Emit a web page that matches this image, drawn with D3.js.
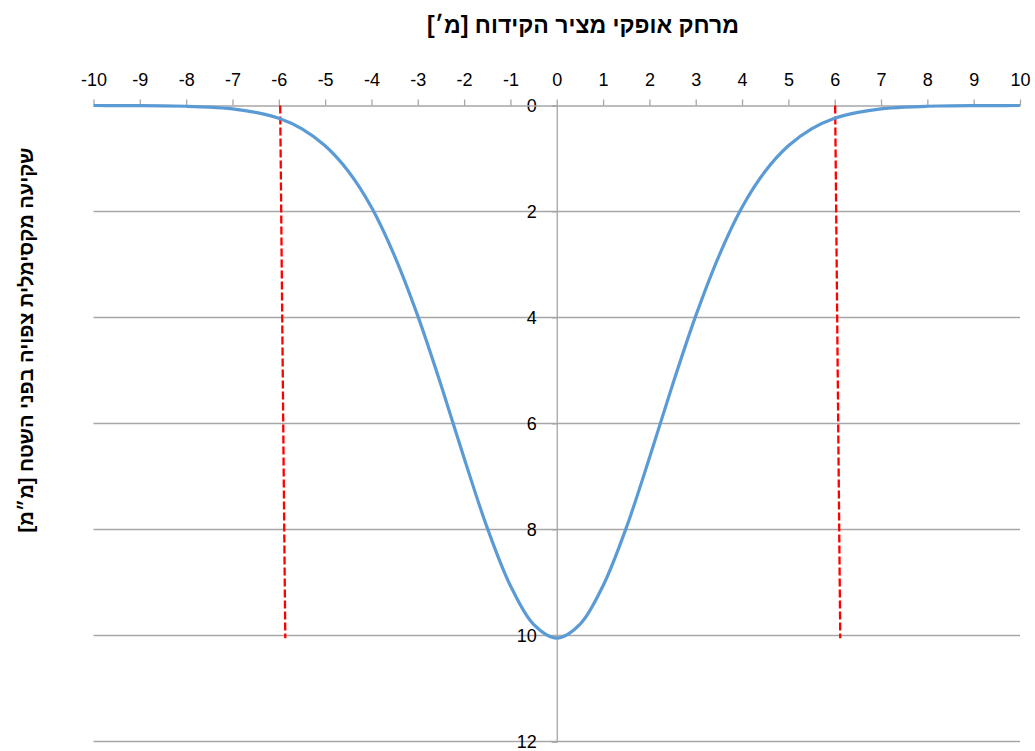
<!DOCTYPE html>
<html><head><meta charset="utf-8">
<script src="https://cdn.jsdelivr.net/npm/d3@7"></script>
<style>body{margin:0;background:#fff}svg{display:block}text{font-family:"Liberation Sans","DejaVu Sans",Arial,sans-serif}</style>
</head><body><div id="chart"></div>
<script>
// distance from borehole axis [m]
const xValues = [-10,-9.5,-9,-8.5,-8,-7.5,-7,-6.5,-6,-5.5,-5,-4.5,-4,-3.5,-3,-2.5,-2,-1.5,-1,-0.5,0,0.5,1,1.5,2,2.5,3,3.5,4,4.5,5,5.5,6,6.5,7,7.5,8,8.5,9,9.5,10];
// max expected surface settlement [mm]
const settlement = [0,0.001,0.002,0.006,0.014,0.03,0.064,0.13,0.24,0.44,0.76,1.24,1.92,2.84,3.97,5.27,6.65,7.97,9.06,9.79,10.05,9.79,9.06,7.97,6.65,5.27,3.97,2.84,1.92,1.24,0.76,0.44,0.24,0.13,0.064,0.03,0.014,0.006,0.002,0.001,0];
const leftLimitX = [-5.97,-5.86], leftLimitY = [0,10.05];
const rightLimitX = [6.01,6.12], rightLimitY = [0,10.05];
const xTicks = [-10,-9,-8,-7,-6,-5,-4,-3,-2,-1,0,1,2,3,4,5,6,7,8,9,10];
const yTicks = [0,2,4,6,8,10,12];
const xTitle = "מרחק אופקי מציר הקידוח [מ׳]";
const yTitle = "שקיעה מקסימלית צפויה בפני השטח [מ״מ]";

const W = 1035, H = 751;
const svg = d3.select("#chart").append("svg").attr("width", W).attr("height", H);
const x = d3.scaleLinear().domain([-10,10]).range([93.5,1020]);
const y = d3.scaleLinear().domain([0,12]).range([105.5,741.5]);
const fmt = d => String(d);

// gridlines
svg.append("g").selectAll("line").data(yTicks.filter(d=>d>0)).join("line")
  .attr("x1", x(-10)).attr("x2", x(10)).attr("y1", d=>y(d)).attr("y2", d=>y(d))
  .attr("stroke", "#a6a6a6").attr("stroke-width", 1.3);

// vertical axis at x=0
const ya = svg.append("g").attr("transform", `translate(${x(0)},0)`)
  .call(d3.axisLeft(y).tickValues(yTicks).tickFormat(fmt).tickSize(5).tickPadding(15));
ya.select(".domain").attr("stroke", "#a6a6a6").attr("stroke-width", 1.3);
ya.selectAll(".tick line").attr("stroke", "#a6a6a6");
ya.selectAll(".tick text").attr("font-size", 18).attr("fill", "#000")
  .attr("font-family", "\"Liberation Sans\",\"DejaVu Sans\",sans-serif");

// top axis
const xa = svg.append("g").attr("transform", `translate(0,${y(0)})`)
  .call(d3.axisTop(x).tickValues(xTicks).tickFormat(fmt).tickSize(6).tickPadding(14).tickSizeOuter(0));
xa.select(".domain").attr("stroke", "#a6a6a6").attr("stroke-width", 1.3);
xa.selectAll(".tick line").attr("stroke", "#a6a6a6").attr("stroke-width", 1.3);
xa.selectAll(".tick text").attr("font-size", 18).attr("fill", "#000")
  .attr("font-family", "\"Liberation Sans\",\"DejaVu Sans\",sans-serif");

// limit lines
const lim = d3.line().x(d=>x(d[0])).y(d=>y(d[1]));
[[leftLimitX,leftLimitY],[rightLimitX,rightLimitY]].forEach(([lx,ly])=>{
  svg.append("path").datum(lx.map((v,i)=>[v,ly[i]])).attr("d", lim)
    .attr("fill","none").attr("stroke","#ff0000").attr("stroke-width",2.3).attr("stroke-dasharray","8,3");
});

// settlement curve
const line = d3.line().x((d,i)=>x(xValues[i])).y(d=>y(d)).curve(d3.curveCatmullRom.alpha(0.5));
svg.append("path").datum(settlement).attr("d", line)
  .attr("fill","none").attr("stroke","#5b9bd5").attr("stroke-width",3.2).attr("stroke-linejoin","round");

// titles
svg.append("text").attr("x", 583).attr("y", 33).attr("text-anchor","middle")
  .attr("direction","rtl").attr("font-size", 23).attr("font-weight","bold").text(xTitle);
svg.append("text").attr("transform","translate(33,340) rotate(-90)").attr("text-anchor","middle")
  .attr("direction","rtl").attr("font-size", 20).attr("font-weight","bold").text(yTitle);
</script></body></html>
